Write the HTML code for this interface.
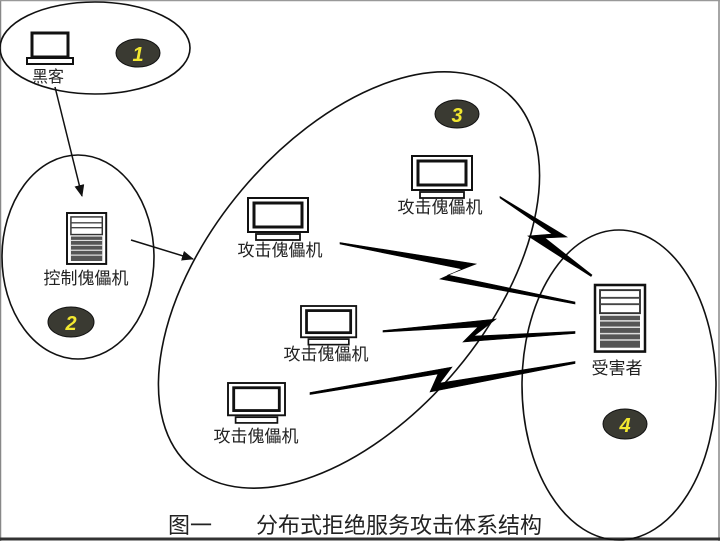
<!DOCTYPE html>
<html><head><meta charset="utf-8"><style>
html,body{margin:0;padding:0;background:#fff;}
svg{display:block;}
text{font-family:"Liberation Sans","Noto Sans CJK SC",sans-serif;fill:#222;}
</style></head><body>
<svg width="720" height="541" viewBox="0 0 720 541" xmlns="http://www.w3.org/2000/svg">
<defs>
<marker id="ah" markerWidth="12" markerHeight="10" refX="11" refY="5" orient="auto" markerUnits="userSpaceOnUse">
<path d="M0,0 L12,5 L0,10 Z" fill="#111"/>
</marker>
<g id="mon">
<rect x="0" y="0" width="60" height="34" fill="#fff" stroke="#111" stroke-width="2"/>
<rect x="6" y="5" width="48" height="24" fill="#fff" stroke="#111" stroke-width="3"/>
<rect x="8" y="36" width="44" height="6" fill="#fff" stroke="#111" stroke-width="1.8"/>
</g>
<g id="srv">
<rect x="0" y="0" width="40" height="52" fill="#fff" stroke="#111" stroke-width="2"/>
<rect x="4" y="4" width="32" height="18" fill="#fff" stroke="#333" stroke-width="1.5"/>
<line x1="4" y1="10" x2="36" y2="10" stroke="#444" stroke-width="1.5"/>
<line x1="4" y1="15" x2="36" y2="15" stroke="#444" stroke-width="1.5"/>
<rect x="4" y="24" width="32" height="25" fill="#555"/>
<line x1="4" y1="28" x2="36" y2="28" stroke="#ddd" stroke-width="1.2"/>
<line x1="4" y1="33" x2="36" y2="33" stroke="#ddd" stroke-width="1.2"/>
<line x1="4" y1="38" x2="36" y2="38" stroke="#ddd" stroke-width="1.2"/>
<line x1="4" y1="43" x2="36" y2="43" stroke="#ddd" stroke-width="1.2"/>
</g>
</defs>
<rect x="0" y="0" width="720" height="541" fill="#fff"/>
<line x1="0.5" y1="0" x2="0.5" y2="541" stroke="#888" stroke-width="1.5"/>
<line x1="719" y1="0" x2="719" y2="541" stroke="#888" stroke-width="1.5"/>
<line x1="0" y1="0.5" x2="720" y2="0.5" stroke="#999" stroke-width="1.5"/>
<line x1="0" y1="539" x2="720" y2="539" stroke="#333" stroke-width="3"/>

<g fill="none" stroke="#111" stroke-width="1.6">
<ellipse cx="95" cy="48" rx="95" ry="46"/>
<ellipse cx="78" cy="257" rx="76" ry="102"/>
<ellipse cx="349" cy="280" rx="245" ry="140" transform="rotate(-50 349 280)"/>
<ellipse cx="619" cy="385" rx="97" ry="155"/>
</g>

<g>
<ellipse cx="138" cy="53" rx="22" ry="14" fill="#3a3a32" stroke="#111"/>
<text x="138" y="61" font-size="20" font-weight="bold" font-style="italic" text-anchor="middle" style="fill:#f2e830">1</text>
<ellipse cx="71" cy="322" rx="23" ry="15" fill="#3a3a32" stroke="#111"/>
<text x="71" y="330" font-size="20" font-weight="bold" font-style="italic" text-anchor="middle" style="fill:#f2e830">2</text>
<ellipse cx="457" cy="114" rx="22" ry="14" fill="#3a3a32" stroke="#111"/>
<text x="457" y="122" font-size="20" font-weight="bold" font-style="italic" text-anchor="middle" style="fill:#f2e830">3</text>
<ellipse cx="625" cy="424" rx="22" ry="15" fill="#3a3a32" stroke="#111"/>
<text x="625" y="432" font-size="20" font-weight="bold" font-style="italic" text-anchor="middle" style="fill:#f2e830">4</text>
</g>

<rect x="32" y="33" width="36" height="24" fill="#fff" stroke="#111" stroke-width="3"/>
<rect x="27" y="58" width="46" height="6" fill="#fff" stroke="#111" stroke-width="2"/>
<text x="48" y="82" font-size="16" text-anchor="middle">黑客</text>

<line x1="55" y1="87" x2="82" y2="196" stroke="#111" stroke-width="1.5" marker-end="url(#ah)"/>
<line x1="131" y1="240" x2="193" y2="259" stroke="#111" stroke-width="1.5" marker-end="url(#ah)"/>

<use href="#srv" transform="translate(67,213) scale(0.98)"/>
<text x="86" y="284" font-size="17" text-anchor="middle">控制傀儡机</text>

<use href="#mon" x="248" y="198"/>
<text x="280" y="256" font-size="17" text-anchor="middle">攻击傀儡机</text>
<use href="#mon" x="412" y="156"/>
<text x="440" y="213" font-size="17" text-anchor="middle">攻击傀儡机</text>
<use href="#mon" transform="translate(301,306) scale(0.92)"/>
<text x="326" y="360" font-size="17" text-anchor="middle">攻击傀儡机</text>
<use href="#mon" transform="translate(228,383) scale(0.95)"/>
<text x="256" y="442" font-size="17" text-anchor="middle">攻击傀儡机</text>

<use href="#srv" transform="translate(595,285) scale(1.25,1.28)"/>
<text x="617" y="374" font-size="17" text-anchor="middle">受害者</text>

<g fill="#000" stroke="#000" stroke-width="0.6" stroke-linejoin="miter">
<polygon points="340,242.5 476,264 448,275 575,302 575,304 440,279 462,269 340,244"/>
<polygon points="500,196.5 567,237 545,238 592,275 591,276.5 528,236 552,234 500,198"/>
<polygon points="383,330.5 496,319 474,336 575,331.5 575,333.5 463,342 478,327 383,332"/>
<polygon points="310,392.5 452,367 440,383 575,361.5 575,363.5 430,392 438,374 310,394.5"/>
</g>

<text x="355" y="533" font-size="22" text-anchor="middle">图一　　分布式拒绝服务攻击体系结构</text>
</svg>
</body></html>
